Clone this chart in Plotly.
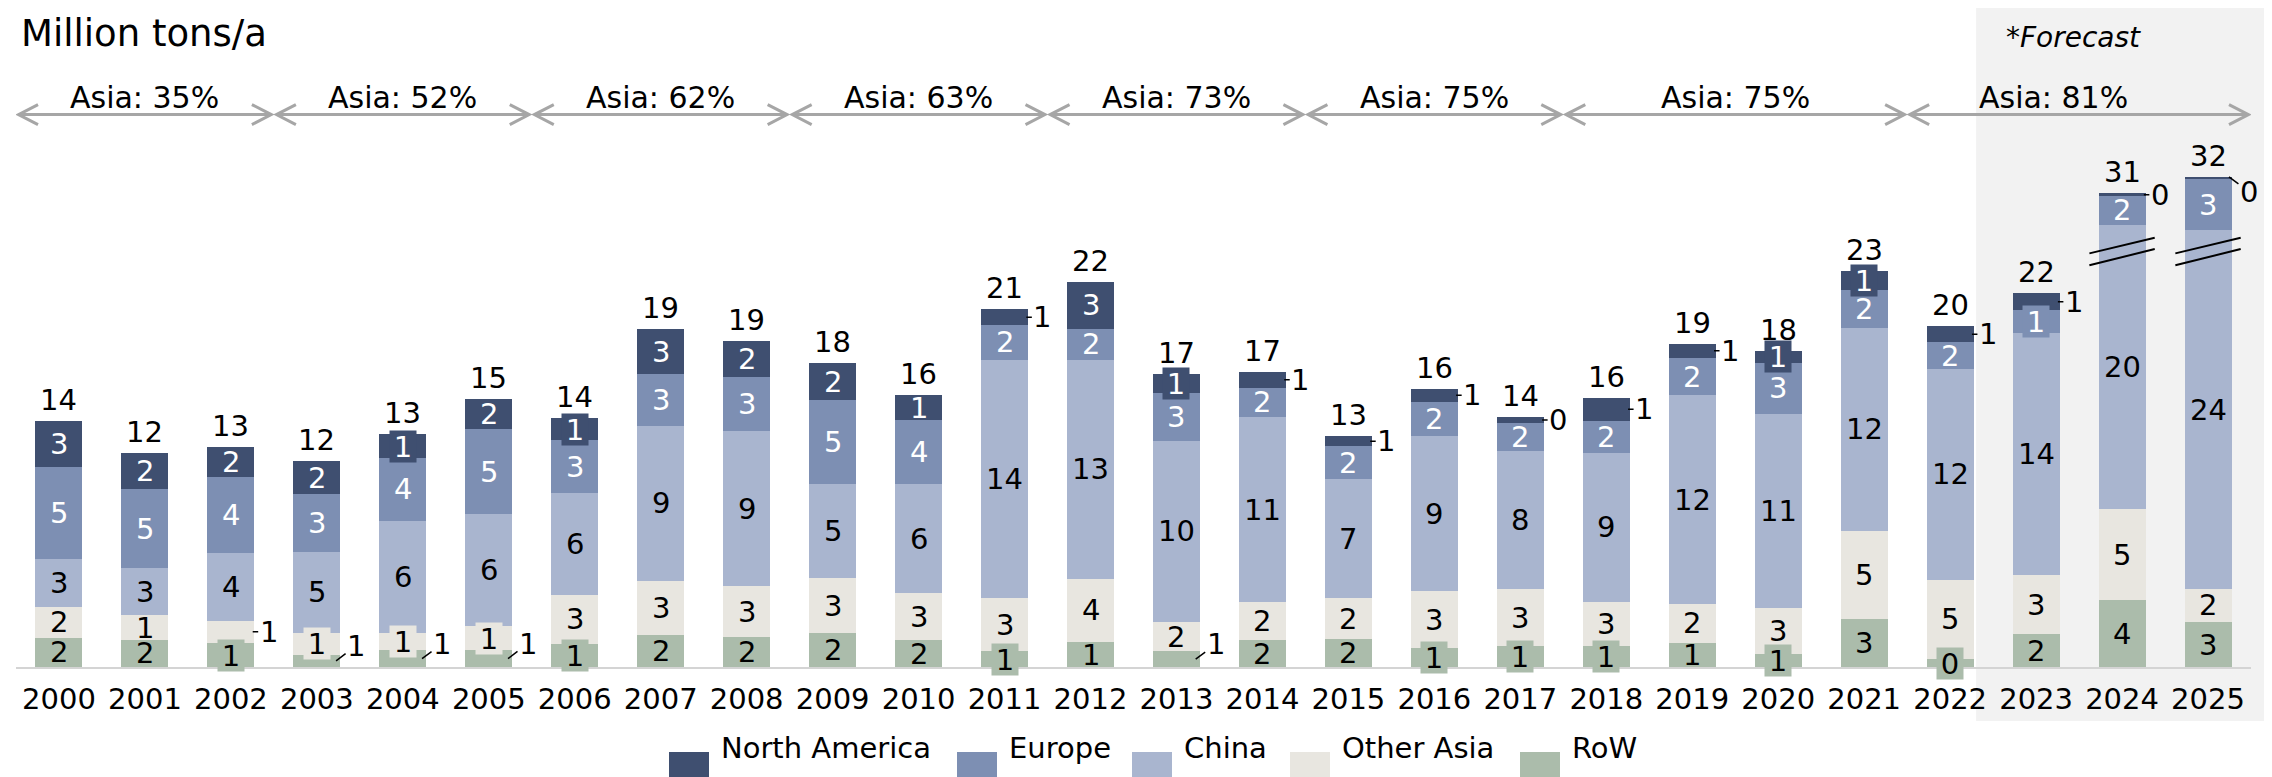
import plotly.graph_objects as go

# Production by region, million tons per year (2023-2025 forecast)
years = list(range(2000, 2026))
north_america = [2.64, 2.06, 1.72, 1.93, 1.37, 1.68, 1.27, 2.59, 2.09, 2.15, 1.44, 0.90, 2.69,
                 1.10, 0.90, 0.60, 0.75, 0.35, 1.34, 0.79, 0.69, 1.09, 0.94, 0.99, 0.16, 0.12]
europe = [5.34, 4.57, 4.39, 3.30, 3.61, 4.95, 3.05, 3.00, 3.09, 4.84, 3.68, 2.00, 1.80,
          2.75, 1.69, 1.90, 1.99, 1.60, 1.84, 2.18, 2.96, 2.19, 1.53, 1.29, 1.65, 2.96]
china = [2.74, 2.71, 3.89, 4.67, 6.45, 6.44, 5.84, 8.90, 8.97, 5.39, 6.26, 13.72, 12.62,
         10.45, 10.69, 6.83, 8.92, 7.97, 8.58, 12.02, 11.17, 11.68, 12.14, 13.98, 20.15, 24.42]
other_asia = [1.78, 1.41, 1.31, 1.27, 1.02, 1.38, 2.85, 3.15, 2.89, 3.20, 2.73, 3.09, 3.64,
              1.70, 2.19, 2.39, 3.29, 3.29, 2.58, 2.23, 2.67, 5.12, 4.59, 3.41, 5.23, 1.91]
rest_of_world = [1.68, 1.56, 1.37, 0.71, 0.96, 0.97, 1.32, 1.83, 1.75, 1.94, 1.54, 0.90, 1.44,
                 0.90, 1.53, 1.59, 1.09, 1.20, 1.19, 1.40, 0.74, 2.74, 0.45, 1.88, 3.86, 2.59]

# the two tallest China bars are drawn cut short (axis break)
axis_break = {2024: 3.75, 2025: 3.75}

asia_share = ["Asia: 35%", "Asia: 52%", "Asia: 62%", "Asia: 63%",
              "Asia: 73%", "Asia: 75%", "Asia: 75%", "Asia: 81%"]
asia_periods = [(2000, 2002), (2003, 2005), (2006, 2008), (2009, 2011),
                (2012, 2014), (2015, 2017), (2018, 2021), (2022, 2025)]

# labels that sit outside their segment, with a small leader line
callouts = {
    ("Other Asia", 2002): "side",
    ("RoW", 2003): "rise", ("RoW", 2004): "rise", ("RoW", 2005): "rise", ("RoW", 2013): "rise",
    ("North America", 2011): "side", ("North America", 2014): "side",
    ("North America", 2015): "side", ("North America", 2016): "side",
    ("North America", 2017): "side", ("North America", 2018): "side",
    ("North America", 2019): "side", ("North America", 2022): "side",
    ("North America", 2023): "side", ("North America", 2024): "side",
    ("North America", 2025): "drop",
}

FONT = "DejaVu Sans, Verdana, sans-serif"
FS = 29
BAR_W = 0.547
GREY = "#a6a6a6"

# bottom -> top
series = [
    ("RoW", rest_of_world, "#abbcab", "black"),
    ("Other Asia", other_asia, "#e8e6e0", "black"),
    ("China", china, "#a9b5cf", "black"),
    ("Europe", europe, "#7d8fb3", "white"),
    ("North America", north_america, "#3f4f70", "white"),
]

fig = go.Figure()
annotations = []
shapes = []

base = [0.0] * len(years)
for name, vals, color, txtcol in series:
    drawn = [v - axis_break.get(yr, 0) if name == "China" else v for yr, v in zip(years, vals)]
    fig.add_trace(go.Bar(x=years, y=drawn, name=name, marker_color=color,
                         marker_line_width=0, width=BAR_W, showlegend=False))
    for i, yr in enumerate(years):
        h = drawn[i]
        mid = base[i] + h / 2
        txt = f"{vals[i]:.0f}"
        style = callouts.get((name, yr))
        leader = dict(showarrow=True, arrowhead=0, arrowwidth=1.5, arrowcolor="black",
                      font=dict(size=FS, color="black"), text=txt)
        if style == "side":
            annotations.append(dict(x=yr + BAR_W / 2 - 0.02, y=mid, ax=16, ay=0, **leader))
        elif style == "rise":
            annotations.append(dict(x=yr + BAR_W / 2 - 0.05, y=mid, ax=20, ay=-15, **leader))
        elif style == "drop":
            annotations.append(dict(x=yr + BAR_W / 2 - 0.03, y=base[i] + h, ax=20, ay=15, **leader))
        elif h < 1.4:
            # small segment: label box in the segment colour pokes out of the bar
            annotations.append(dict(x=yr, y=mid, text=txt, showarrow=False, bgcolor=color,
                                    width=26, height=31, borderpad=0,
                                    font=dict(size=FS, color=txtcol)))
        else:
            annotations.append(dict(x=yr, y=mid, text=txt, showarrow=False,
                                    font=dict(size=FS, color=txtcol)))
    base = [b + d for b, d in zip(base, drawn)]

# totals above the bars
for i, yr in enumerate(years):
    total = north_america[i] + europe[i] + china[i] + other_asia[i] + rest_of_world[i]
    annotations.append(dict(x=yr, y=base[i], text=f"{total:.0f}", showarrow=False,
                            yanchor="bottom", yshift=2, font=dict(size=FS, color="black")))

# axis-break marks on the cut bars
for yr in axis_break:
    for y0, y1 in [(23.84, 24.74), (23.15, 24.09)]:
        shapes.append(dict(type="line", xref="x", yref="y", x0=yr - 0.38, x1=yr + 0.38,
                           y0=y0, y1=y1, line=dict(color="black", width=2)))

# Asia share arrows
ARROW_Y = 31.84
for k, ((a, b), label) in enumerate(zip(asia_periods, asia_share)):
    x0, x1 = a - 0.47, b + 0.47
    shapes.append(dict(type="line", xref="x", yref="y", x0=x0, x1=x1, y0=ARROW_Y, y1=ARROW_Y,
                       line=dict(color=GREY, width=3)))
    for tip, back in [(x0, x0 + 0.226), (x1, x1 - 0.226)]:
        shapes.append(dict(type="path", xref="x", yref="y",
                           path=f"M{back},{ARROW_Y + 0.576} L{tip},{ARROW_Y} L{back},{ARROW_Y - 0.576}",
                           line=dict(color=GREY, width=3)))
    xm = (a + b) / 2 - (0.3 if k == len(asia_periods) - 1 else 0)
    annotations.append(dict(x=xm, y=32.85, text=label, showarrow=False,
                            font=dict(size=30, color="black")))

# forecast shading
shapes.append(dict(type="rect", xref="paper", yref="paper", x0=0.877, x1=1.0103,
                   y0=-0.083, y1=1.0123, fillcolor="#f2f2f2", line_width=0, layer="below"))
annotations.append(dict(x=2023.44, y=36.28, text="<i>*Forecast</i>", showarrow=False,
                        font=dict(size=28, color="black")))

annotations.append(dict(xref="paper", x=0, xanchor="left", xshift=3, y=36.5,
                        text="Million tons/a", showarrow=False,
                        font=dict(size=37, color="black")))

# legend drawn by hand so the swatches match the original size
legend_left = [661, 949, 1124, 1282, 1512]
for (name, vals, color, txtcol), left in zip(reversed(series), legend_left):
    x0 = (left - 8) / 2235
    shapes.append(dict(type="rect", xref="paper", yref="paper",
                       x0=x0, x1=x0 + 40 / 2235, y0=(659 - 773) / 651, y1=(659 - 744) / 651,
                       fillcolor=color, line_width=0))
    annotations.append(dict(xref="paper", yref="paper", x=x0 + 50 / 2235, xanchor="left",
                            y=(659 - 758.5) / 651, text=name, showarrow=False,
                            font=dict(size=FS, color="black")))

fig.update_layout(
    width=2272, height=777, autosize=False,
    barmode="stack",
    margin=dict(l=8, r=29, t=8, b=118),
    paper_bgcolor="white", plot_bgcolor="rgba(0,0,0,0)",
    font=dict(family=FONT, size=FS, color="black"),
    showlegend=False,
    shapes=shapes, annotations=annotations,
    xaxis=dict(range=[1999.5, 2025.5], tickmode="array", tickvals=years,
               ticktext=[str(y) for y in years], tickfont=dict(size=FS, color="black"),
               showgrid=False, zeroline=False, showline=True, linecolor="#d4d4d4",
               linewidth=2, ticks="outside", ticklen=5, tickcolor="rgba(0,0,0,0)"),
    yaxis=dict(range=[0, 37.52], visible=False, showgrid=False, zeroline=False),
)

fig.write_html("out.html")
